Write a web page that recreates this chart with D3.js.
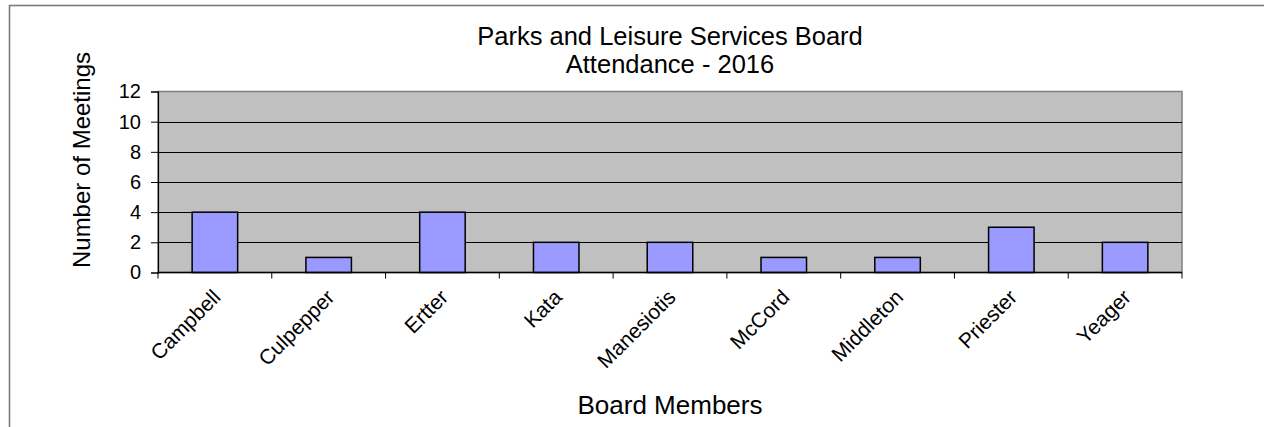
<!DOCTYPE html>
<html>
<head>
<meta charset="utf-8">
<script src="https://cdn.jsdelivr.net/npm/d3@7"></script>
<style>
  html, body { margin: 0; padding: 0; background: #fff; }
  svg { display: block; font-family: "Liberation Sans", Arial, sans-serif; }
</style>
</head>
<body>
<svg id="chart" width="1264" height="427"></svg>
<script>
const categories = ["Campbell", "Culpepper", "Ertter", "Kata", "Manesiotis", "McCord", "Middleton", "Priester", "Yeager"];
const meetings = [4, 1, 4, 2, 2, 1, 1, 3, 2];
const yTicks = [0, 2, 4, 6, 8, 10, 12];
const titleLines = ["Parks and Leisure Services Board", "Attendance - 2016"];
const xTitle = "Board Members";
const yTitle = "Number of Meetings";

const svg = d3.select("#chart");
const W = 1264, H = 427;
const plot = { left: 158, right: 1182, top: 91.5, bottom: 272.5 };

// outer frame
svg.append("rect")
  .attr("x", 9.5).attr("y", 5.5)
  .attr("width", W).attr("height", H)
  .attr("fill", "#fff").attr("stroke", "#7a7a7a").attr("stroke-width", 1.6);

const x = d3.scaleBand()
  .domain(categories)
  .range([plot.left, plot.right])
  .paddingInner(0.6)
  .paddingOuter(0.3);

const y = d3.scaleLinear()
  .domain([0, 12])
  .range([plot.bottom, plot.top]);

// plot background
svg.append("rect")
  .attr("x", plot.left).attr("y", plot.top)
  .attr("width", plot.right - plot.left).attr("height", plot.bottom - plot.top)
  .attr("fill", "#c0c0c0")
  .attr("stroke", "#808080").attr("stroke-width", 1.5);

// gridlines
svg.append("g").selectAll("line")
  .data(yTicks.filter(t => t > 0 && t < 12))
  .join("line")
  .attr("x1", plot.left).attr("x2", plot.right)
  .attr("y1", d => Math.round(y(d)) + 0.5).attr("y2", d => Math.round(y(d)) + 0.5)
  .attr("stroke", "#000").attr("stroke-width", 1);

// bars
svg.append("g").selectAll("rect")
  .data(categories.map((c, i) => ({ c, v: meetings[i] })))
  .join("rect")
  .attr("x", d => x(d.c))
  .attr("y", d => y(d.v))
  .attr("width", x.bandwidth())
  .attr("height", d => y(0) - y(d.v))
  .attr("fill", "#9999ff")
  .attr("stroke", "#000").attr("stroke-width", 1.5);

// y axis
const yAxis = d3.axisLeft(y).tickValues(yTicks).tickSize(7).tickPadding(10);
const gy = svg.append("g").attr("transform", `translate(${plot.left},0)`).call(yAxis);
gy.select(".domain").attr("stroke", "#000").attr("stroke-width", 1.2);
gy.selectAll(".tick line").attr("stroke", "#000");
gy.selectAll(".tick text")
  .attr("font-family", "Liberation Sans, Arial, sans-serif")
  .attr("font-size", 20).attr("fill", "#000");

// x axis line + boundary ticks
svg.append("line")
  .attr("x1", plot.left).attr("x2", plot.right)
  .attr("y1", plot.bottom).attr("y2", plot.bottom)
  .attr("stroke", "#000").attr("stroke-width", 1.5);
const step = x.step();
const bounds = d3.range(categories.length + 1).map(i => plot.left + i * step);
svg.append("g").selectAll("line")
  .data(bounds)
  .join("line")
  .attr("x1", d => d).attr("x2", d => d)
  .attr("y1", plot.bottom).attr("y2", plot.bottom + 6)
  .attr("stroke", "#000").attr("stroke-width", 1);

// category labels rotated
svg.append("g").selectAll("text")
  .data(categories)
  .join("text")
  .attr("transform", d => `translate(${x(d) + x.bandwidth() / 2 + 7},${plot.bottom + 26}) rotate(-45)`)
  .attr("text-anchor", "end")
  .attr("font-size", 21)
  .attr("fill", "#000")
  .text(d => d);

// title
const cx = (plot.left + plot.right) / 2;
svg.append("text")
  .attr("x", cx).attr("y", 45)
  .attr("text-anchor", "middle")
  .attr("font-size", 25.5)
  .selectAll("tspan")
  .data(titleLines)
  .join("tspan")
  .attr("x", cx)
  .attr("dy", (d, i) => i === 0 ? 0 : 28)
  .text(d => d);

// axis titles
svg.append("text")
  .attr("x", cx).attr("y", 414)
  .attr("text-anchor", "middle")
  .attr("font-size", 26)
  .text(xTitle);

svg.append("text")
  .attr("transform", `translate(90,160) rotate(-90)`)
  .attr("text-anchor", "middle")
  .attr("font-size", 24)
  .text(yTitle);
</script>
</body>
</html>
